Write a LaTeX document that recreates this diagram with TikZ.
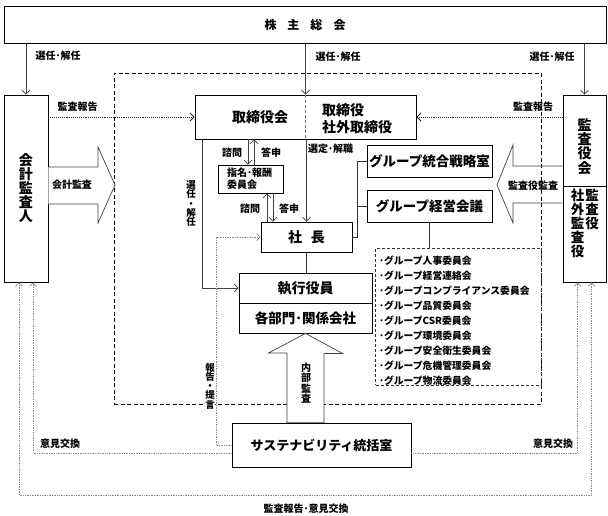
\documentclass[tikz,border=0pt]{standalone}
\usepackage{fontspec}
\setmainfont{Noto Sans CJK JP}
\usetikzlibrary{arrows.meta}
\newcommand\myfs[2]{\fontsize{#1}{#2}\selectfont\bfseries}
\begin{document}
\begin{tikzpicture}[x=1pt,y=-1pt,
  box/.style={draw=black, line width=0.8pt, fill=white, inner sep=0pt, align=center},
  txt/.style={inner sep=0pt, align=center},
  lbl/.style={inner sep=0pt, font=\myfs{10}{10}},
  vlbl/.style={inner sep=0pt, align=center, font=\myfs{9.5}{9.3}},
  plain/.style={draw=black!80, line width=0.7pt},
  arr/.style={draw=black!75, line width=0.7pt, -{Straight Barb[length=4pt,width=8pt]}},
  dotk/.style={draw=black!85, line width=0.9pt, densely dotted, -{Straight Barb[length=4pt,width=8pt]}},
  dotg/.style={draw=black!45, line width=0.7pt, densely dotted, -{Straight Barb[length=3.5pt,width=7pt]}},
  bigarr/.style={draw=black!75, line width=0.7pt, fill=white},
  region/.style={draw=black, line width=0.8pt, dash pattern=on 4pt off 2.5pt, inner sep=0pt}]
\useasboundingbox (0,0) rectangle (608,515);

% dashed region
\node[region, minimum width=427, minimum height=331] (region) at (327.5,238.5) {};

% boxes
\node[box, minimum width=602, minimum height=37, font=\myfs{12}{12}] (soukai) at (305,24.5)
  {株\hspace{11pt}主\hspace{11pt}総\hspace{11pt}会};
\node[box, minimum width=44, minimum height=187] (kaikei) at (26,188.5) {};
\node[txt, font=\myfs{14}{14}] at (kaikei) {会\\計\\監\\査\\人};

\node[box, minimum width=43, minimum height=187] (kansa) at (584.5,188.5) {};
\draw[line width=0.8pt] (kansa.west |- 0,186) -- (kansa.east |- 0,186);
\node[txt, font=\myfs{14}{14.2}] (kansaT) at (584.5,146.5) {監\\査\\役\\会};
\node[txt, font=\myfs{13.5}{14}, anchor=north] (kansaR) at (592,189) {監\\査\\役};
\node[txt, font=\myfs{13.5}{14}, anchor=north] (kansaL) at (577.5,189) {社\\外\\監\\査\\役};

\node[box, minimum width=221, minimum height=44] (tori) at (305.5,117) {};
\draw[black!55, line width=0.5pt, densely dashed] (tori.north) -- (tori.south);
\node[txt, font=\myfs{14}{14}] (toriA) at (260,117.5) {取締役会};
\node[txt, font=\myfs{14}{17}, align=left, anchor=west] (toriB) at (322,118.5) {取締役\\社外取締役};

\node[box, minimum width=65, minimum height=28] (shimei) at (250.5,179) {};
\node[txt, font=\myfs{10}{12}, align=left, anchor=west] (shimeiT) at (227,179) {指名･報酬\\委員会};

\node[box, minimum width=91, minimum height=30, font=\myfs{14}{14}] (shacho) at (306.5,237) {社\hspace{9pt}長};

\node[box, minimum width=125, minimum height=32, font=\myfs{13.5}{14}] (senryaku) at (429.5,161) {グループ統合戦略室};
\node[box, minimum width=125, minimum height=32, font=\myfs{13.5}{14}] (keiei) at (429.5,206) {グループ経営会議};

\node[draw=black!80, line width=0.6pt, densely dashed, inner sep=0pt, minimum width=166, minimum height=137] (list) at (458.5,316.5) {};
\node[inner sep=0pt, anchor=west, align=left, font=\myfs{9.8}{15}] (listT) at (379,320.5)
  {･グループ人事委員会\\･グループ経営連絡会\\･グループコンプライアンス委員会\\･グループ品質委員会\\･グループCSR委員会\\･グループ環境委員会\\･グループ安全衛生委員会\\･グループ危機管理委員会\\･グループ物流委員会};

\node[box, minimum width=133, minimum height=30, font=\myfs{14}{14}] (shikkou) at (305.5,288) {執行役員};
\node[box, minimum width=133, minimum height=30, font=\myfs{13.5}{14}] (kakubu) at (305.5,318) {各部門･関係会社};

\node[box, minimum width=179, minimum height=44, font=\myfs{13}{13}] (sus) at (321.5,445) {サステナビリティ統括室};

% arrows from 株主総会
\draw[arr] (soukai.south -| kaikei.north) -- (kaikei.north);
\draw[arr] (soukai.south -| tori.north) -- (tori.north);
\draw[arr] (soukai.south -| kansa.north) -- (kansa.north);
\node[lbl] (l1) at (58,56) {選任･解任};
\node[lbl] (l2) at (338,57) {選任･解任};
\node[lbl] (l3) at (552,57) {選任･解任};

% audit reports (dotted)
\draw[dotk] (kaikei.east |- tori.west) -- (tori.west);
\draw[dotk] (kansa.west |- tori.east) -- (tori.east);
\node[lbl] (l4) at (77.5,107) {監査報告};
\node[lbl] (l5) at (533,107) {監査報告};

% big arrows
\draw[bigarr] (kaikei.east |- 0,167) -- (98,167) -- (98,147) -- (115,185) -- (98,223) -- (98,204) -- (kaikei.east |- 0,204);
\node[lbl] (l6) at (72,185) {会計監査};
\draw[draw=black!75, line width=0.7pt] (kansa.west |- 0,166) -- (513,166) -- (513,145) -- (497,185) -- (513,223) -- (513,203) -- (kansa.west |- 0,203);
\node[lbl] (l7) at (533,186) {監査役監査};
\draw[bigarr] (kakubu.south) -- ++(37,20) -- ++(-18.5,0) -- (sus.north -| 324,0) -- (sus.north -| 287,0) -- (287,353) -- (268.5,353) -- cycle;
\node[txt, font=\myfs{10}{10.3}] (l8) at (306,383) {内\\部\\監\\査};

% board internal
\draw[arr] (tori.south -| 248,0) -- (shimei.north -| 248,0);
\draw[arr] (shimei.north -| 254,0) -- (tori.south -| 254,0);
\draw[arr] (shacho.north -| 267,0) -- (shimei.south -| 267,0);
\draw[arr] (shimei.south -| 273,0) -- (shacho.north -| 273,0);
\node[lbl] (l9) at (232,153) {諮問};
\node[lbl] (l10) at (271,153) {答申};
\node[lbl] (l11) at (250,209) {諮問};
\node[lbl] (l12) at (289,209) {答申};

\draw[arr] (tori.south -| shacho.north) -- (shacho.north);
\node[lbl, anchor=west] (l13) at (308,149) {選定･解職};

\draw[arr] ([xshift=8pt]tori.south west) |- (shikkou.west);
\node[vlbl] (l14) at (191,203.5) {選\\任\\・\\解\\任};

\draw[plain] (shacho.south) -- (shikkou.north -| shacho.south);
\draw[plain] (shacho.east) -- ++(5,0) |- (senryaku.west);
\draw[plain] (shacho.east) ++(5,0) |- (keiei.west);
\draw[plain] (keiei.south) -- (keiei.south |- list.north);

% dotted report lines
\draw[dotg] (sus.west) -- ++(-15,0) |- (shacho.west);
\node[vlbl, fill=white] (l15) at (210,386) {報\\告\\・\\提\\言};

\draw[dotg] ([yshift=-8pt]sus.west) -| ([xshift=7pt]kaikei.south);
\draw[dotg] ([yshift=-8pt]sus.east) -| ([xshift=-7pt]kansa.south);
\coordinate (bot) at (306,495);
\draw[dotg, {Straight Barb[length=3.5pt,width=7pt]}-{Straight Barb[length=3.5pt,width=7pt]}] ([xshift=-7pt]kaikei.south) |- (bot) -| ([xshift=7pt]kansa.south);
\node[lbl] (l16) at (60,444) {意見交換};
\node[lbl] (l17) at (553,444) {意見交換};
\node[lbl] (l18) at (306,509) {監査報告･意見交換};
\end{tikzpicture}
\end{document}
